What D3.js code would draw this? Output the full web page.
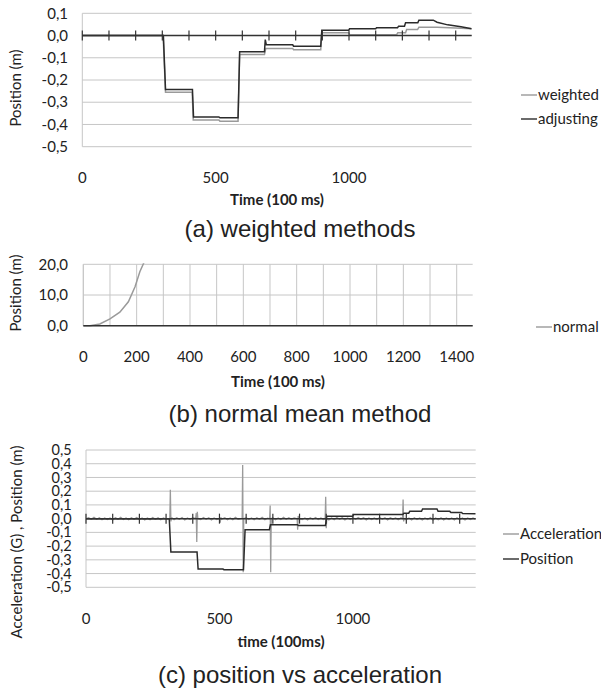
<!DOCTYPE html>
<html>
<head>
<meta charset="utf-8">
<script src="https://cdn.jsdelivr.net/npm/d3@7"></script>
<style>
  body { margin: 0; background: #fff; }
  svg { display: block; }
  .lbl { font-family: Lato, "Open Sans", sans-serif; font-size: 15px; fill: #222; }
  .ttl { font-family: Lato, "Open Sans", sans-serif; font-size: 15px; font-weight: bold; fill: #222; }
  .cap { font-family: "Liberation Sans", Arial, sans-serif; font-size: 24px; fill: #222; }
</style>
</head>
<body>
<svg id="chart" width="601" height="688"></svg>
<script>
// ---- data ----
// (a) weighted methods
const weightedT = [0, 303, 312, 412, 416, 512, 516, 584, 590, 683, 688, 789, 792, 894, 898, 999, 1003, 1178, 1183, 1212, 1216, 1257, 1262, 1330, 1400, 1460];
const weightedV = [0, 0, -0.255, -0.255, -0.38, -0.38, -0.385, -0.385, -0.085, -0.085, -0.058, -0.058, -0.064, -0.064, 0.012, 0.012, 0.003, 0.003, 0.012, 0.012, 0.027, 0.027, 0.037, 0.037, 0.034, 0.031];
const adjustingT = [0, 304, 312, 413, 417, 512, 516, 584, 590, 683, 686, 690, 789, 792, 894, 898, 999, 1002, 1100, 1103, 1182, 1186, 1208, 1212, 1258, 1262, 1316, 1330, 1370, 1420, 1460];
const adjustingV = [0, 0, -0.243, -0.243, -0.366, -0.366, -0.37, -0.37, -0.073, -0.073, -0.018, -0.042, -0.042, -0.048, -0.048, 0.024, 0.024, 0.03, 0.03, 0.035, 0.035, 0.042, 0.042, 0.057, 0.057, 0.069, 0.069, 0.06, 0.048, 0.039, 0.031];

// (b) normal mean method
const normalT = [0, 25, 62, 100, 137, 169, 194, 212, 227, 235];
const normalV = [0, 0, 0.55, 2.2, 4.4, 7.8, 12.7, 17.6, 20.5, 23];

// (c) position vs acceleration
const positionT = [0, 312, 318, 416, 420, 513, 517, 590, 596, 687, 691, 792, 796, 897, 902, 999, 1003, 1187, 1191, 1209, 1213, 1257, 1261, 1315, 1319, 1363, 1367, 1407, 1411, 1460];
const positionV = [0, 0, -0.243, -0.243, -0.367, -0.367, -0.372, -0.372, -0.08, -0.08, -0.044, -0.044, -0.05, -0.05, 0.017, 0.017, 0.03, 0.03, 0.04, 0.04, 0.053, 0.053, 0.07, 0.07, 0.053, 0.053, 0.045, 0.045, 0.038, 0.036];
const accelerationT = [0, 10, 20, 30, 40, 50, 60, 70, 80, 90, 100, 110, 120, 130, 140, 150, 160, 170, 180, 190, 200, 210, 220, 230, 240, 250, 260, 270, 280, 290, 300, 314, 316, 318, 320, 322,
  330, 340, 350, 360, 370, 380, 390, 400, 411, 413, 415, 417, 419, 430, 440, 450, 460, 470, 480, 490, 501, 503, 505, 507, 520, 530, 540, 550, 560, 570, 583, 585, 587, 589, 591,
  600, 610, 620, 630, 640, 650, 660, 670, 680, 686, 688, 690, 692, 694, 700, 710, 720, 730, 740, 750, 760, 770, 780, 791, 793, 795, 797, 810, 820, 830, 840, 850, 860, 870, 880, 890, 896, 898, 900, 902,
  910, 920, 930, 940, 950, 960, 970, 980, 990, 1000, 1010, 1020, 1030, 1040, 1050, 1060, 1070, 1080, 1090, 1100, 1110, 1120, 1130, 1140, 1150, 1160, 1170, 1180, 1186, 1188, 1190, 1192,
  1200, 1210, 1220, 1230, 1240, 1250, 1260, 1270, 1280, 1290, 1300, 1310, 1320, 1330, 1340, 1350, 1360, 1370, 1380, 1390, 1400, 1410, 1420, 1430, 1440, 1450, 1460];
const accelerationV = [0, 0.006, -0.005, 0.009, -0.004, 0.007, -0.008, 0.005, -0.007, 0.004, -0.009, 0.006, -0.004, 0.009, -0.006, 0.005, -0.008, 0.007, -0.005, 0.008, -0.006, 0.005, -0.009, 0.004, -0.007, 0.008, -0.005, 0.006, -0.008, 0.005, -0.004, 0, 0.21, -0.02, 0, 0.005,
  -0.007, 0.006, -0.005, 0.008, -0.009, 0.004, -0.006, 0.007, 0, 0.04, -0.17, 0.05, 0, -0.006, 0.008, -0.005, 0.007, -0.009, 0.005, -0.006, 0, -0.03, 0.01, -0.005, 0.006, -0.008, 0.005, -0.007, 0.009, -0.004, 0, 0, 0.39, -0.39, 0,
  0.007, -0.006, 0.005, -0.008, 0.006, -0.005, 0.009, -0.007, 0.004, 0, 0, 0.095, -0.39, 0, 0.006, -0.008, 0.005, -0.006, 0.009, -0.005, 0.007, -0.004, 0.006, 0, -0.08, 0.02, 0, -0.006, 0.005, -0.009, 0.007, -0.005, 0.008, -0.006, 0.004, -0.007, 0, 0.16, -0.07, 0,
  -0.009, 0.005, -0.007, 0.008, -0.004, 0.006, -0.009, 0.005, -0.006, 0.007, -0.005, 0.008, -0.004, 0.006, -0.009, 0.005, -0.007, 0.004, -0.006, 0.008, -0.005, 0.007, -0.009, 0.006, -0.004, 0.005, -0.008, 0.006, 0, 0.14, -0.02, 0,
  -0.008, 0.005, -0.01, 0.006, -0.007, 0.004, -0.009, 0.005, -0.006, 0.007, -0.01, 0.004, -0.008, 0.006, -0.009, 0.004, -0.007, 0.005, -0.01, 0.006, -0.008, 0.004, -0.009, 0.005, -0.007, 0.004, -0.005];

// tick values
const ticksA = [-0.5, -0.4, -0.3, -0.2, -0.1, 0, 0.1];
const ticksB = [0, 10, 20];
const ticksC = [-0.5, -0.4, -0.3, -0.2, -0.1, 0, 0.1, 0.2, 0.3, 0.4, 0.5];
const xLabelsAC = [0, 500, 1000];
const xLabelsB = [0, 200, 400, 600, 800, 1000, 1200, 1400];
const xMinor = d3.range(0, 1401, 100);

// colours
const gridColour = "#c6c6c6";
const axisColour = "#333";
const lightSeries = "#9a9a9a";
const darkSeries = "#2b2b2b";

const locale = d3.formatLocale({ decimal: ",", thousands: ".", grouping: [3], currency: ["", ""], minus: "-" });
const fmt1 = locale.format(".1f");

const svg = d3.select("#chart");

function zip(t, v) { return t.map((d, i) => ({ t: d, v: v[i] })); }

function panel(cfg) {
  const g = svg.append("g");
  const x = d3.scaleLinear().domain([0, 1460]).range(cfg.xr);
  const y = d3.scaleLinear().domain(cfg.yd).range(cfg.yr);

  // horizontal gridlines
  g.selectAll(".hg").data(cfg.yTicks).join("line")
    .attr("x1", cfg.xr[0]).attr("x2", cfg.xr[1])
    .attr("y1", d => y(d)).attr("y2", d => y(d))
    .attr("stroke", gridColour).attr("stroke-width", 1);

  // vertical gridlines (only panel b)
  if (cfg.vGrid) {
    g.selectAll(".vg").data(cfg.vGrid).join("line")
      .attr("x1", d => x(d)).attr("x2", d => x(d))
      .attr("y1", cfg.yr[0]).attr("y2", cfg.yr[1])
      .attr("stroke", gridColour).attr("stroke-width", 1);
  }

  // left axis line
  g.append("line")
    .attr("x1", cfg.xr[0]).attr("x2", cfg.xr[0])
    .attr("y1", cfg.yr[0]).attr("y2", cfg.yr[1])
    .attr("stroke", gridColour);

  // y tick labels
  g.selectAll(".yl").data(cfg.yTicks).join("text")
    .attr("class", "lbl")
    .style("font-size", cfg.yLabelSize || null)
    .attr("x", cfg.yLabelX).attr("y", d => y(d))
    .attr("dy", "0.35em").attr("text-anchor", "end")
    .text(d => fmt1(d));

  // x labels (below plot)
  g.selectAll(".xl").data(cfg.xLabels).join("text")
    .attr("class", "lbl")
    .attr("x", d => x(d)).attr("y", cfg.xLabelY)
    .attr("dy", "0.35em").attr("text-anchor", "middle")
    .text(d => d);

  // clip for series
  const clipId = "clip" + cfg.id;
  svg.append("clipPath").attr("id", clipId)
    .append("rect")
    .attr("x", cfg.xr[0]).attr("y", cfg.yr[1] - 1)
    .attr("width", cfg.xr[1] - cfg.xr[0]).attr("height", cfg.yr[0] - cfg.yr[1] + 8);

  const line = d3.line().x(d => x(d.t)).y(d => y(d.v));
  const series = g.append("g").attr("clip-path", `url(#${clipId})`);

  // zero axis with crossing ticks
  const zeroG = g.append("g");
  zeroG.append("line")
    .attr("x1", cfg.xr[0]).attr("x2", cfg.xr[1])
    .attr("y1", y(0)).attr("y2", y(0))
    .attr("stroke", axisColour).attr("stroke-width", 1.5);
  if (cfg.crossTicks) {
    zeroG.selectAll(".ct").data(xMinor).join("line")
      .attr("x1", d => x(d)).attr("x2", d => x(d))
      .attr("y1", y(0) - 5).attr("y2", y(0) + 5)
      .attr("stroke", axisColour).attr("stroke-width", 1.2);
  }

  cfg.series.forEach(s => {
    series.append("path")
      .datum(zip(s.t, s.v))
      .attr("fill", "none")
      .attr("stroke", s.colour)
      .attr("stroke-width", s.width || 1.5)
      .attr("d", line);
  });

  // axis titles
  g.append("text").attr("class", "lbl")
    .attr("transform", `translate(${cfg.yTitlePos[0]},${cfg.yTitlePos[1]}) rotate(-90)`)
    .attr("text-anchor", "middle").attr("dy", "0.35em")
    .text(cfg.yTitle);
  g.append("text").attr("class", "ttl")
    .attr("x", cfg.xTitlePos[0]).attr("y", cfg.xTitlePos[1])
    .attr("text-anchor", "middle").attr("dy", "0.35em")
    .text(cfg.xTitle);

  // legend
  cfg.series.forEach((s, i) => {
    const ly = cfg.legend[1] + i * cfg.legendStep;
    g.append("line")
      .attr("x1", cfg.legend[0]).attr("x2", cfg.legend[0] + 16)
      .attr("y1", ly).attr("y2", ly)
      .attr("stroke", s.colour).attr("stroke-width", 1.4);
    g.append("text").attr("class", "lbl")
      .attr("x", cfg.legend[0] + 17).attr("y", ly).attr("dy", "0.35em")
      .text(s.name);
  });

  // caption
  svg.append("text").attr("class", "cap")
    .attr("x", 300).attr("y", cfg.captionY)
    .attr("text-anchor", "middle").attr("dy", "0.35em")
    .text(cfg.caption);
}

panel({
  id: "a", xr: [82.3, 471.7], yd: [-0.5, 0.1], yr: [146.7, 13.3],
  yTicks: ticksA, yLabelX: 68, xLabels: xLabelsAC, xLabelY: 178, crossTicks: true,
  yTitle: "Position (m)", yTitlePos: [16, 88],
  xTitle: "Time (100 ms)", xTitlePos: [277, 200],
  legend: [521, 95], legendStep: 24,
  series: [
    { name: "weighted", t: weightedT, v: weightedV, colour: lightSeries },
    { name: "adjusting", t: adjustingT, v: adjustingV, colour: darkSeries }
  ],
  caption: "(a) weighted methods", captionY: 229
});

panel({
  id: "b", xr: [83.3, 472.7], yd: [0, 20], yr: [325.7, 264.3],
  yTicks: ticksB, yLabelX: 68, xLabels: xLabelsB, xLabelY: 356.7, vGrid: xMinor,
  yTitle: "Position (m)", yTitlePos: [16, 293],
  xTitle: "Time (100 ms)", xTitlePos: [278, 382],
  legend: [536, 327], legendStep: 24,
  series: [
    { name: "normal", t: normalT, v: normalV, colour: lightSeries }
  ],
  caption: "(b) normal mean method", captionY: 414
});

panel({
  id: "c", xr: [86, 475.7], yd: [-0.5, 0.5], yr: [587.3, 450],
  yTicks: ticksC, yLabelX: 71.7, yLabelSize: "14.5px", xLabels: xLabelsAC, xLabelY: 619, crossTicks: true,
  yTitle: "Acceleration (G) , Position (m)", yTitlePos: [16.7, 542],
  xTitle: "time (100ms)", xTitlePos: [281, 642],
  legend: [503, 534], legendStep: 25,
  series: [
    { name: "Acceleration", t: accelerationT, v: accelerationV, colour: lightSeries, width: 1.3 },
    { name: "Position", t: positionT, v: positionV, colour: darkSeries }
  ],
  caption: "(c) position vs acceleration", captionY: 675
});
</script>
</body>
</html>
